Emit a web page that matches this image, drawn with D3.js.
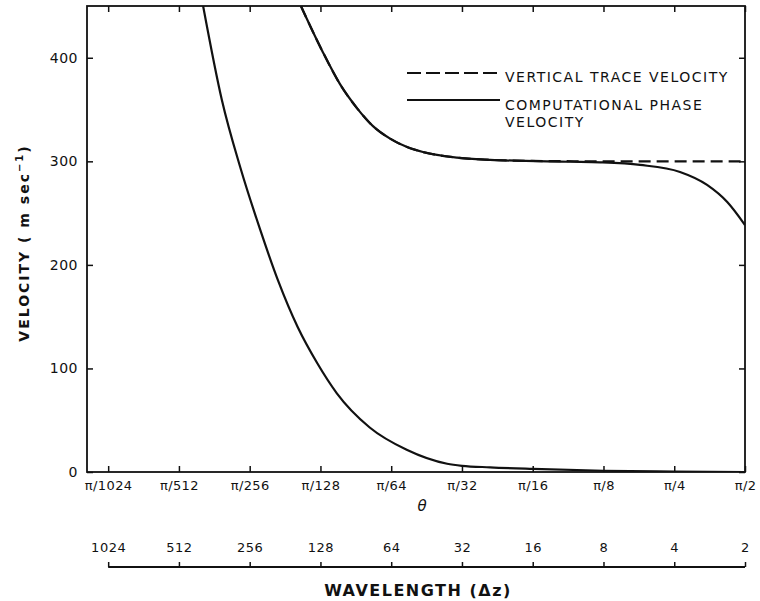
<!DOCTYPE html>
<html>
<head>
<meta charset="utf-8">
<script src="https://cdn.jsdelivr.net/npm/d3@7"></script>
<style>
  body { margin: 0; background: #fff; }
  svg { display: block; }
  text { font-family: "DejaVu Sans", sans-serif; fill: #111; }
</style>
</head>
<body>
<svg width="760" height="601"></svg>
<script>
// wavelength (in Δz) of every tick, and the matching θ labels
var wavelengthTicks = [1024, 512, 256, 128, 64, 32, 16, 8, 4, 2];
var thetaLabels = ["π/1024", "π/512", "π/256", "π/128", "π/64", "π/32", "π/16", "π/8", "π/4", "π/2"];
var velocityTicks = [0, 100, 200, 300, 400];

// lower branch
var lowerLambda = [404, 336, 281, 231, 194, 160, 132, 109, 79, 55, 37, 32, 24.3, 16, 8, 4, 2];
var lowerVelocity = [450, 359, 294.5, 234, 185, 140, 105, 76, 43, 21.5, 8, 6, 4.5, 3, 1.2, 0.5, 0];

// upper branch, computational phase velocity
var phaseLambda = [155, 125, 106, 89, 76.5, 64.7, 54.8, 46.9, 33.6, 24.3, 11.1, 8.27, 5.59, 3.78, 2.9, 2.38, 2];
var phaseVelocity = [450, 405.4, 375, 350.7, 334, 321.9, 313.8, 309, 303.6, 301.5, 299.6, 299, 296.5, 289.7, 277.2, 260.7, 238.5];

// upper branch, vertical trace velocity
var traceLambda = [155, 125, 106, 89, 76.5, 64.7, 54.8, 46.9, 33.6, 24.3, 16, 8, 4, 2];
var traceVelocity = [450, 405.4, 375, 350.7, 334, 321.9, 313.8, 309, 303.6, 301.5, 300.4, 300, 300, 300];

var margin = { left: 87, top: 6, right: 15, bottom: 129 },
    width = 760 - margin.left - margin.right,
    height = 601 - margin.top - margin.bottom;

var svg = d3.select("svg");
var g = svg.append("g")
    .attr("transform", "translate(" + margin.left + "," + margin.top + ")");

var xScale = d3.scaleLog()
    .domain([1260, 2])
    .range([0, width]);

var yScale = d3.scaleLinear()
    .domain([0, 450])
    .range([height, 0]);

function zip(xs, ys) {
    return xs.map(function (d, i) { return { lambda: d, v: ys[i] }; });
}

g.append("clipPath").attr("id", "plot-clip")
  .append("rect").attr("width", width).attr("height", height);

// axes with inward ticks
var thetaAxis = d3.axisBottom(xScale)
    .tickValues(wavelengthTicks)
    .tickFormat(function (d, i) { return thetaLabels[i]; })
    .tickSize(-6).tickSizeOuter(0).tickPadding(9);

g.append("g")
    .attr("class", "theta-axis")
    .attr("transform", "translate(0," + height + ")")
    .call(thetaAxis);

g.append("g")
    .call(d3.axisTop(xScale).tickValues(wavelengthTicks).tickFormat("").tickSize(-6).tickSizeOuter(0));

g.append("g")
    .attr("class", "y-axis")
    .call(d3.axisLeft(yScale).tickValues(velocityTicks).tickSize(-6).tickSizeOuter(0).tickPadding(9));

g.append("g")
    .attr("transform", "translate(" + width + ",0)")
    .call(d3.axisRight(yScale).tickValues(velocityTicks).tickFormat("").tickSize(-6).tickSizeOuter(0));

g.selectAll(".domain").remove();
g.selectAll(".tick line").attr("stroke", "#111").attr("stroke-width", 1.5);
g.selectAll(".tick text").style("font-size", "13px").style("letter-spacing", "0.4px").attr("fill", "#111");
g.selectAll(".y-axis .tick text").style("font-size", "14px").style("letter-spacing", "0.5px");

// frame
g.append("rect")
    .attr("width", width).attr("height", height)
    .attr("fill", "none").attr("stroke", "#111").attr("stroke-width", 1.8);

// curves
var line = d3.line()
    .x(function (d) { return xScale(d.lambda); })
    .y(function (d) { return yScale(d.v); })
    .curve(d3.curveMonotoneX);

var curves = g.append("g").attr("clip-path", "url(#plot-clip)");

curves.append("path")
    .datum(zip(traceLambda, traceVelocity))
    .attr("fill", "none").attr("stroke", "#111").attr("stroke-width", 2.2)
    .attr("stroke-dasharray", "12,6")
    .attr("d", line);

curves.append("path")
    .datum(zip(phaseLambda, phaseVelocity))
    .attr("fill", "none").attr("stroke", "#111").attr("stroke-width", 2.2)
    .attr("d", line);

curves.append("path")
    .datum(zip(lowerLambda, lowerVelocity))
    .attr("fill", "none").attr("stroke", "#111").attr("stroke-width", 2.2)
    .attr("d", line);

// θ label
g.append("text")
    .attr("x", xScale(64) + 31).attr("y", height + 39)
    .attr("text-anchor", "middle")
    .style("font-size", "15px").style("font-style", "italic")
    .text("θ");

// wavelength axis below
var wl = g.append("g").attr("transform", "translate(0," + (height + 95) + ")");
wl.call(d3.axisTop(xScale).tickValues(wavelengthTicks).tickFormat(d3.format("d"))
    .tickSize(5).tickSizeOuter(0).tickPadding(10));
wl.select(".domain").remove();
wl.append("line")
    .attr("x1", xScale(1024)).attr("x2", xScale(2))
    .attr("stroke", "#111").attr("stroke-width", 1.8);
wl.selectAll(".tick line").attr("stroke", "#111").attr("stroke-width", 1.5);
wl.selectAll(".tick text").style("font-size", "13px").style("letter-spacing", "0.5px").attr("fill", "#111");

svg.append("text")
    .attr("x", 418).attr("y", 596)
    .attr("text-anchor", "middle")
    .style("font-size", "16px").style("font-weight", "bold").style("letter-spacing", "1.5px")
    .text("WAVELENGTH (Δz)");

// y axis title
var yt = svg.append("text")
    .attr("transform", "translate(29,243) rotate(-90)")
    .attr("text-anchor", "middle")
    .style("font-size", "14px").style("font-weight", "bold").style("letter-spacing", "2px");
yt.append("tspan").text("VELOCITY   ( m  sec");
yt.append("tspan").attr("dy", "-6").style("font-size", "10px").text("−1");
yt.append("tspan").attr("dy", "6").text(")");

// legend
var legend = svg.append("g");
legend.append("line")
    .attr("x1", 407).attr("x2", 500).attr("y1", 73).attr("y2", 73)
    .attr("stroke", "#111").attr("stroke-width", 1.8).attr("stroke-dasharray", "14,5");
legend.append("line")
    .attr("x1", 407).attr("x2", 500).attr("y1", 100).attr("y2", 100)
    .attr("stroke", "#111").attr("stroke-width", 1.8);
var legendText = [["VERTICAL TRACE VELOCITY", 82], ["COMPUTATIONAL PHASE", 110], ["VELOCITY", 127]];
legend.selectAll("text.lg")
    .data(legendText)
    .join("text")
    .attr("class", "lg")
    .attr("x", 505).attr("y", function (d) { return d[1]; })
    .style("font-size", "14px").style("letter-spacing", "1.5px")
    .text(function (d) { return d[0]; });
</script>
</body>
</html>
